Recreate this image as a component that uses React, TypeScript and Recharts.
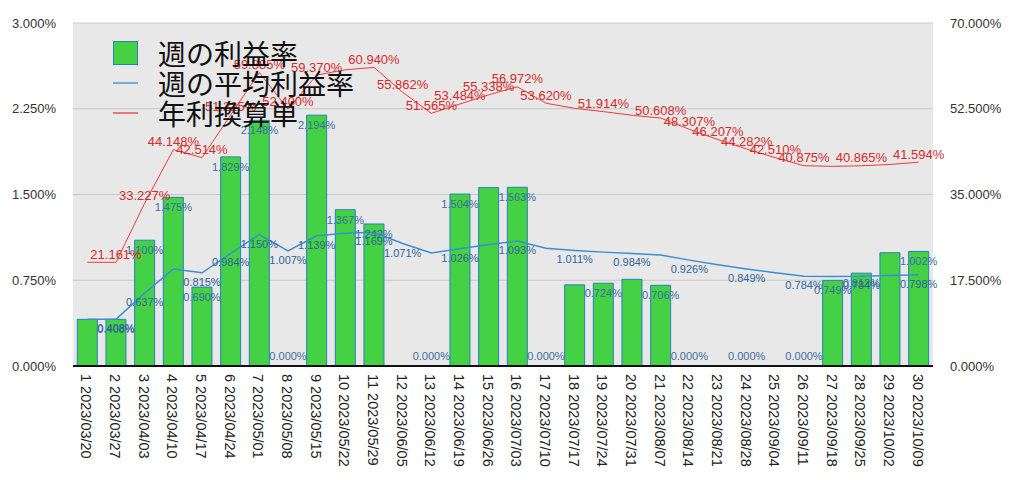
import React from 'react';
import { ComposedChart, Bar, Line, XAxis, YAxis, CartesianGrid, LabelList } from 'recharts';

const weeks = [
  '1 2023/03/20', '2 2023/03/27', '3 2023/04/03', '4 2023/04/10', '5 2023/04/17',
  '6 2023/04/24', '7 2023/05/01', '8 2023/05/08', '9 2023/05/15', '10 2023/05/22',
  '11 2023/05/29', '12 2023/06/05', '13 2023/06/12', '14 2023/06/19', '15 2023/06/26',
  '16 2023/07/03', '17 2023/07/10', '18 2023/07/17', '19 2023/07/24', '20 2023/07/31',
  '21 2023/08/07', '22 2023/08/14', '23 2023/08/21', '24 2023/08/28', '25 2023/09/04',
  '26 2023/09/11', '27 2023/09/18', '28 2023/09/25', '29 2023/10/02', '30 2023/10/09',
];

// 週の利益率 (%)
const weeklyRate = [
  0.408, 0.408, 1.1, 1.475, 0.69, 1.829, 2.148, 0, 2.194, 1.367,
  1.242, 0, 0, 1.504, 1.56, 1.563, 0, 0.71, 0.724, 0.758,
  0.706, 0, 0, 0, 0, 0, 0.749, 0.812, 0.991, 1.002,
];

// 週の平均利益率 (%)
const avgRate = [
  0.408, 0.408, 0.637, 0.848, 0.815, 0.984, 1.15, 1.007, 1.139, 1.162,
  1.169, 1.071, 0.989, 1.026, 1.062, 1.093, 1.029, 1.011, 0.996, 0.984,
  0.971, 0.926, 0.886, 0.849, 0.815, 0.784, 0.783, 0.784, 0.791, 0.798,
];

// 年利換算単 (%)
const annualRate = [
  21.161, 21.161, 33.227, 44.148, 42.514, 51.225, 59.885, 52.4, 59.37, 60.45,
  60.94, 55.862, 51.565, 53.484, 55.338, 56.972, 53.62, 52.58, 51.914, 51.17,
  50.608, 48.307, 46.207, 44.282, 42.51, 40.875, 40.74, 40.865, 41.13, 41.594,
];

const leftTicks = [0, 0.75, 1.5, 2.25, 3];
const rightTicks = [0, 17.5, 35, 52.5, 70];

// the original hides labels that would collide; these are the ones it shows
const weeklyShown = [1, 2, 3, 4, 5, 6, 7, 8, 9, 10, 12, 13, 15, 16, 18, 20, 21, 23, 25, 26, 27, 29];
const avgShown = [1, 2, 4, 5, 6, 7, 8, 10, 11, 13, 15, 17, 19, 21, 23, 25, 27, 29];
const annualShown = [1, 2, 3, 4, 5, 6, 7, 8, 10, 11, 12, 13, 14, 15, 16, 18, 20, 21, 22, 23, 24, 25, 27, 29];

const data = weeks.map((week, i) => ({
  week,
  weekly: weeklyRate[i],
  avg: avgRate[i],
  annual: annualRate[i],
}));

const NUM_FONT = '"Liberation Sans", Arial, sans-serif';
const JP_FONT = '"Noto Sans CJK JP", sans-serif';

const pct = (v: number) => `${v.toFixed(3)}%`;

const WeekTick = (props: any) => {
  const { x, y, payload } = props;
  return (
    <text
      transform={`translate(${x - 1},${y}) rotate(90)`}
      textAnchor="start"
      dominantBaseline="central"
      fontSize={14.5}
      fontFamily={NUM_FONT}
      fill="#222"
    >
      {payload.value}
    </text>
  );
};

// dy: offset from the point; zero bars put their label just above the axis
const makeLabel = (shown: number[], dy: number, color: string, size: number) => (props: any) => {
  const { x, y, value, index } = props;
  if (!shown.includes(index)) return null;
  const off = value === 0 && dy > 0 ? -dy : dy;
  return (
    <text
      x={x}
      y={y + off}
      textAnchor="middle"
      dominantBaseline="central"
      fontSize={size}
      fontFamily={NUM_FONT}
      fill={color}
    >
      {pct(value)}
    </text>
  );
};

const LineIcon = ({ color }: { color: string }) => (
  <svg width={25} height={6} style={{ display: 'block' }}>
    <line x1={0} y1={3} x2={25} y2={3} stroke={color} strokeWidth={1.3} />
  </svg>
);

const LegendBox = () => {
  const row: React.CSSProperties = { display: 'flex', alignItems: 'center', height: 30 };
  const text: React.CSSProperties = { fontSize: 28, fontFamily: JP_FONT, color: '#111', marginLeft: 20, lineHeight: '30px' };
  return (
    <div style={{ position: 'absolute', left: 113, top: 38 }}>
      <div style={row}>
        <div style={{ width: 23, height: 22, background: '#44d144', border: '1px solid #2a7ec4' }} />
        <span style={text}>週の利益率</span>
      </div>
      <div style={row}>
        <LineIcon color="#3b8fd0" />
        <span style={text}>週の平均利益率</span>
      </div>
      <div style={row}>
        <LineIcon color="#f03a3a" />
        <span style={text}>年利換算単</span>
      </div>
    </div>
  );
};

export default function App() {
  return (
    <div style={{ position: 'absolute', left: 0, top: 0, width: 1024, height: 480, background: '#fff' }}>
      <ComposedChart width={1024} height={480} data={data} margin={{ top: 23, right: 0, bottom: 0, left: 0 }} barCategoryGap="15%">
        <CartesianGrid vertical={false} stroke="#c8c8c8" fill="#e8e8e8" yAxisId="left" />
        <XAxis
          dataKey="week"
          interval={0}
          height={114}
          tick={<WeekTick />}
          tickLine={false}
          axisLine={{ stroke: '#111', strokeWidth: 2 }}
        />
        <YAxis
          yAxisId="left"
          domain={[0, 3]}
          ticks={leftTicks}
          width={73}
          tickSize={0}
          tickMargin={17}
          axisLine={false}
          tickLine={false}
          tickFormatter={pct}
          tick={{ fontSize: 13, fontFamily: NUM_FONT, fill: '#333' }}
        />
        <YAxis
          yAxisId="right"
          orientation="right"
          domain={[0, 70]}
          ticks={rightTicks}
          width={91}
          tickSize={0}
          tickMargin={17}
          axisLine={false}
          tickLine={false}
          tickFormatter={pct}
          tick={{ fontSize: 13, fontFamily: NUM_FONT, fill: '#333', textAnchor: 'start' }}
        />
        <Bar yAxisId="left" dataKey="weekly" fill="#44d144" stroke="#2a7ec4" strokeWidth={1} isAnimationActive={false} />
        {/* invisible series carrying the bar-top labels, so zero weeks get theirs too */}
        <Line yAxisId="left" dataKey="weekly" stroke="none" dot={false} activeDot={false} legendType="none" isAnimationActive={false}>
          <LabelList dataKey="weekly" content={makeLabel(weeklyShown, 10, '#3a6ea0', 11)} />
        </Line>
        <Line yAxisId="left" dataKey="avg" stroke="#3b8fd0" strokeWidth={1.5} dot={false} isAnimationActive={false}>
          <LabelList dataKey="avg" content={makeLabel(avgShown, 9, '#2f6599', 11)} />
        </Line>
        <Line yAxisId="right" dataKey="annual" stroke="#f03a3a" strokeWidth={1} dot={false} isAnimationActive={false}>
          <LabelList dataKey="annual" content={makeLabel(annualShown, -8, '#d42a2a', 13)} />
        </Line>
      </ComposedChart>
      <LegendBox />
    </div>
  );
}
